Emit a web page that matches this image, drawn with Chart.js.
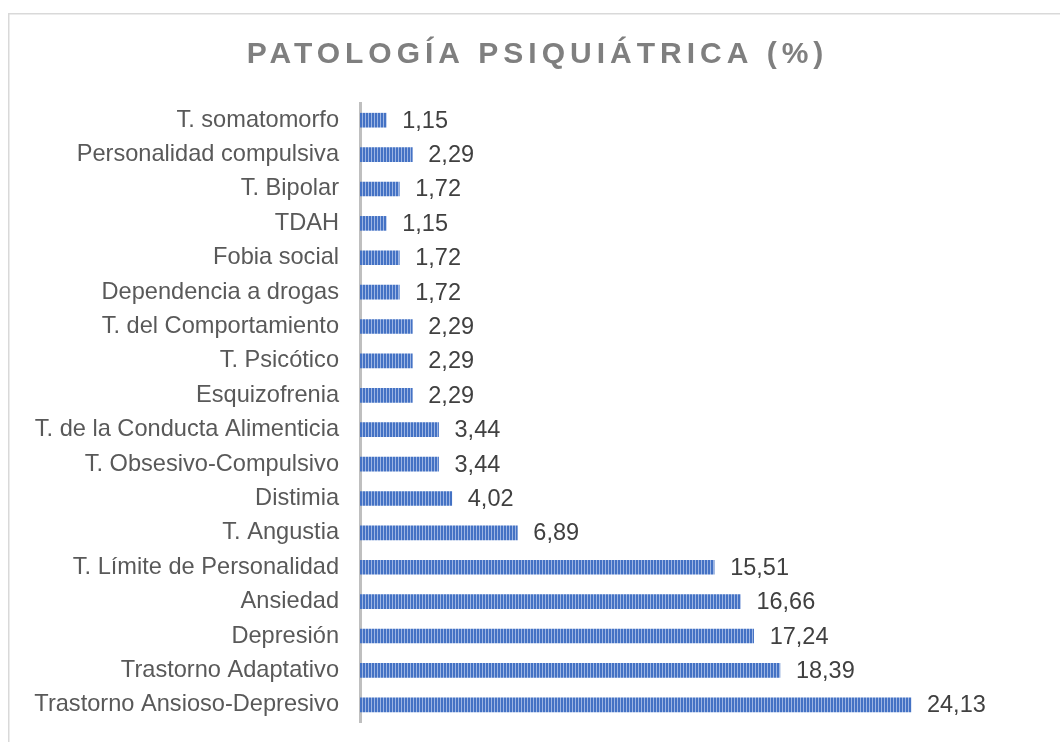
<!DOCTYPE html>
<html>
<head>
<meta charset="utf-8">
<script src="https://cdn.jsdelivr.net/npm/chart.js@4/dist/chart.umd.min.js"></script>
<style>
html,body{margin:0;padding:0;background:#fff;}
#wrap{position:relative;width:1060px;height:742px;}
</style>
</head>
<body>
<div id="wrap"><canvas id="c" width="1060" height="742"></canvas></div>
<script>
const chartTitle = 'PATOLOGÍA PSIQUIÁTRICA (%)';
const categories = [
  'T. somatomorfo',
  'Personalidad compulsiva',
  'T. Bipolar',
  'TDAH',
  'Fobia social',
  'Dependencia a drogas',
  'T. del Comportamiento',
  'T. Psicótico',
  'Esquizofrenia',
  'T. de la Conducta Alimenticia',
  'T. Obsesivo-Compulsivo',
  'Distimia',
  'T. Angustia',
  'T. Límite de Personalidad',
  'Ansiedad',
  'Depresión',
  'Trastorno Adaptativo',
  'Trastorno Ansioso-Depresivo'
];
const values = [1.15, 2.29, 1.72, 1.15, 1.72, 1.72, 2.29, 2.29, 2.29, 3.44, 3.44, 4.02, 6.89, 15.51, 16.66, 17.24, 18.39, 24.13];

// striped fill
const pc = document.createElement('canvas');
pc.width = 3; pc.height = 4;
const pctx = pc.getContext('2d');
pctx.fillStyle = '#4472C4'; pctx.fillRect(0,0,3,4);
pctx.fillStyle = '#9DB5E3'; pctx.fillRect(2,0,1,4);
const ctx0 = document.getElementById('c').getContext('2d');
const stripe = ctx0.createPattern(pc, 'repeat');

const FONT = '"Liberation Sans", Arial, sans-serif';

const decor = {
  id: 'decor',
  beforeDraw(chart) {
    const ctx = chart.ctx;
    ctx.save();
    ctx.fillStyle = '#fff';
    ctx.fillRect(0,0,chart.width,chart.height);
    ctx.fillStyle = '#D9D9D9';
    ctx.fillRect(8,13,chart.width-8,1.5);
    ctx.fillRect(8,13,1.5,chart.height-13);
    ctx.restore();
  },
  afterDraw(chart) {
    const ctx = chart.ctx;
    ctx.save();
    ctx.font = 'bold 30px ' + FONT;
    ctx.fillStyle = '#7F7F7F';
    ctx.textBaseline = 'alphabetic';
    ctx.textAlign = 'left';
    try { ctx.letterSpacing = '5px'; } catch(e) {}
    const w = ctx.measureText(chartTitle).width - 5;
    ctx.fillText(chartTitle, 535 - w/2, 63);
    ctx.restore();
  },
  afterDatasetsDraw(chart) {
    const ctx = chart.ctx;
    const meta = chart.getDatasetMeta(0);
    ctx.save();
    ctx.font = '23.5px ' + FONT;
    ctx.fillStyle = '#404040';
    ctx.textBaseline = 'middle';
    ctx.textAlign = 'left';
    meta.data.forEach((bar, i) => {
      const t = values[i].toFixed(2).replace('.', ',');
      ctx.fillText(t, bar.x + 16, bar.y + 1);
    });
    ctx.restore();
  }
};

new Chart(document.getElementById('c'), {
  type: 'bar',
  data: {
    labels: categories,
    datasets: [{
      data: values,
      backgroundColor: stripe,
      borderWidth: 0,
      barThickness: 14
    }]
  },
  options: {
    indexAxis: 'y',
    responsive: false,
    animation: false,
    events: [],
    layout: { padding: { top: 103, bottom: 20, left: 0, right: 15 } },
    plugins: {
      legend: { display: false },
      title: { display: false },
      tooltip: { enabled: false }
    },
    scales: {
      x: {
        display: false,
        min: 0,
        max: 30
      },
      y: {
        z: 1,
        afterFit(s) { s.width = 360; s.paddingTop = 0; s.paddingBottom = 0; },
        grid: { display: false, drawTicks: false },
        border: { display: true, color: '#BFBFBF', width: 3 },
        ticks: {
          color: '#595959',
          padding: 21,
          autoSkip: false,
          font: { family: FONT, size: 23.6 }
        }
      }
    }
  },
  plugins: [decor]
});
</script>
</body>
</html>
